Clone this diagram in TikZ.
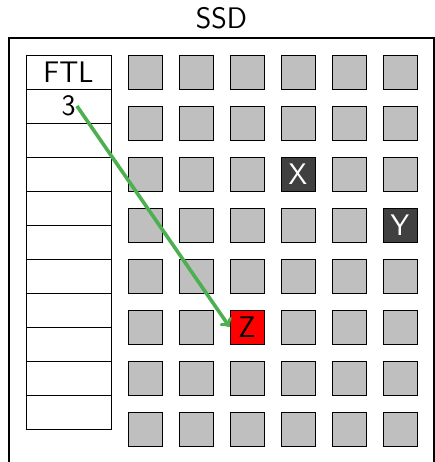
\documentclass[tikz,border=0pt]{standalone}
\usetikzlibrary{positioning}
\definecolor{mapgreen}{RGB}{76,175,80}

\begin{document}
\begin{tikzpicture}[
    font=\sffamily\Huge,
    node distance=0cm,
    box/.style={draw, ultra thick, rectangle, minimum width=12.5cm, minimum height=12.5cm},
    cell/.style={draw, semithick, rectangle, minimum width=2.5cm, minimum height=1cm, inner sep=0pt, outer sep=0pt},
    flashpage/.style={draw, semithick, rectangle, fill=black!25, minimum size=1cm, inner sep=0pt},
    usedpage/.style={flashpage, fill=black!75, text=white},
    targetpage/.style={flashpage, fill=red},
    arrow/.style={->, line width=3pt, mapgreen}
]
\useasboundingbox (-0.765,1.618) rectangle (12,-11.97);

% drive outline and its name
\node[box] (ssd) at (5.75,-5.75) {};
\node[above=0.12cm of ssd] (ssdname) {SSD};

% mapping table
\node[cell] (t0) at (1.25,-0.5) {FTL};
\foreach \i [remember=\i as \j (initially 0)] in {1,...,10}
    \node[cell, below=of t\j] (t\i) {};
\node[inner sep=1pt] (three) at (t1) {3};

% flash pages
\foreach \r in {0,...,7}
    \foreach \c in {0,...,5} {
        \ifnum\r\c=23 \else \ifnum\r\c=35 \else \ifnum\r\c=52 \else
            \node[flashpage] (p\r\c) at (3.5+1.5*\c,-0.5-1.5*\r) {};
        \fi\fi\fi
    }
\node[usedpage] (x) at (8,-3.5) {X};
\node[usedpage] (y) at (11,-5) {Y};
\node[targetpage] (z) at (6.5,-8) {Z};

\draw[arrow] (three.east) -- (z.west);
\end{tikzpicture}
\end{document}
